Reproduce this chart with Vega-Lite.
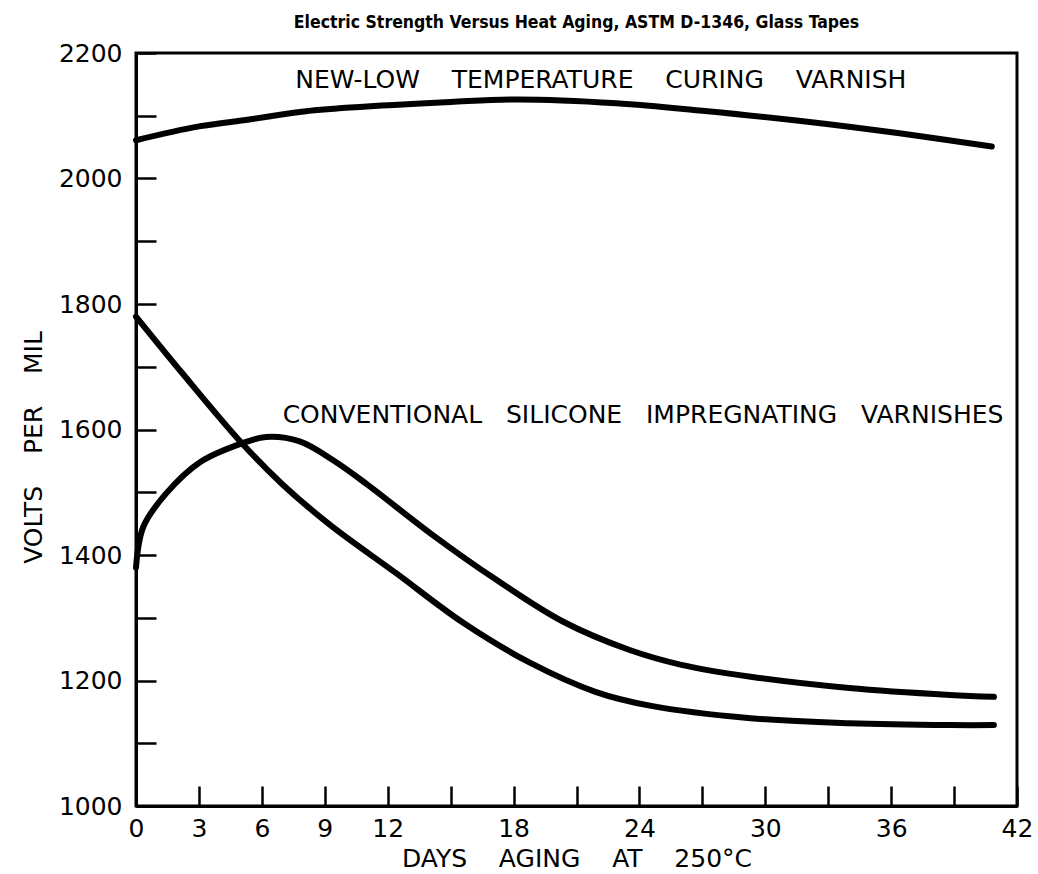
{
  "$schema": "https://vega.github.io/schema/vega-lite/v6.json",
  "width": 881,
  "height": 753,
  "autosize": "none",
  "padding": {"left": 136, "top": 53, "right": 21, "bottom": 68},
  "background": "white",
  "config": {
    "view": {"stroke": "black", "strokeWidth": 3},
    "font": "DejaVu Sans"
  },
  "title": {
    "text": "Electric Strength Versus Heat Aging, ASTM D-1346, Glass Tapes",
    "font": "DejaVu Sans Condensed",
    "fontSize": 17.5,
    "fontWeight": 600,
    "color": "black",
    "anchor": "middle",
    "offset": 10
  },
  "datasets": {
    "curves": [
      {"series": "new", "day": 0, "volts": 2061},
      {"series": "new", "day": 3, "volts": 2083},
      {"series": "new", "day": 5.4, "volts": 2094},
      {"series": "new", "day": 7.8, "volts": 2106},
      {"series": "new", "day": 10.2, "volts": 2113},
      {"series": "new", "day": 15, "volts": 2122},
      {"series": "new", "day": 18.2, "volts": 2126},
      {"series": "new", "day": 22.9, "volts": 2120},
      {"series": "new", "day": 27, "volts": 2108},
      {"series": "new", "day": 31.6, "volts": 2092},
      {"series": "new", "day": 36.4, "volts": 2072},
      {"series": "new", "day": 40.8, "volts": 2051},
      {"series": "desc", "day": 0, "volts": 1780},
      {"series": "desc", "day": 2.2, "volts": 1690},
      {"series": "desc", "day": 5.05, "volts": 1578},
      {"series": "desc", "day": 7, "volts": 1512},
      {"series": "desc", "day": 9.25, "volts": 1448},
      {"series": "desc", "day": 12.4, "volts": 1371},
      {"series": "desc", "day": 15.6, "volts": 1292},
      {"series": "desc", "day": 18.8, "volts": 1228},
      {"series": "desc", "day": 21.9, "volts": 1182},
      {"series": "desc", "day": 24.5, "volts": 1160},
      {"series": "desc", "day": 29.3, "volts": 1140},
      {"series": "desc", "day": 34, "volts": 1132},
      {"series": "desc", "day": 38.8, "volts": 1129},
      {"series": "desc", "day": 40.9, "volts": 1129},
      {"series": "asc", "day": 0, "volts": 1380},
      {"series": "asc", "day": 0.35, "volts": 1445},
      {"series": "asc", "day": 1.46, "volts": 1499},
      {"series": "asc", "day": 3.05, "volts": 1548},
      {"series": "asc", "day": 5.05, "volts": 1578},
      {"series": "asc", "day": 6.2, "volts": 1588},
      {"series": "asc", "day": 7.8, "volts": 1581},
      {"series": "asc", "day": 9.4, "volts": 1551},
      {"series": "asc", "day": 11, "volts": 1513},
      {"series": "asc", "day": 14.1, "volts": 1433},
      {"series": "asc", "day": 17.2, "volts": 1360},
      {"series": "asc", "day": 20.35, "volts": 1294},
      {"series": "asc", "day": 23.5, "volts": 1249},
      {"series": "asc", "day": 26, "volts": 1225},
      {"series": "asc", "day": 29.3, "volts": 1206},
      {"series": "asc", "day": 34, "volts": 1188},
      {"series": "asc", "day": 38.8, "volts": 1177},
      {"series": "asc", "day": 40.9, "volts": 1174}
    ],
    "notes": [
      {"label": "NEW-LOW\u00a0\u00a0\u00a0\u00a0TEMPERATURE\u00a0\u00a0\u00a0\u00a0CURING\u00a0\u00a0\u00a0\u00a0VARNISH", "day": 22.16, "volts": 2157},
      {"label": "CONVENTIONAL\u00a0\u00a0\u00a0SILICONE\u00a0\u00a0\u00a0IMPREGNATING\u00a0\u00a0\u00a0VARNISHES", "day": 24.17, "volts": 1623}
    ]
  },
  "layer": [
    {
      "data": {"name": "curves"},
      "mark": {"type": "line", "color": "black", "strokeWidth": 6, "strokeCap": "round", "interpolate": "catmull-rom"},
      "encoding": {
        "x": {
          "field": "day", "type": "quantitative",
          "scale": {"domain": [0, 42], "nice": false, "zero": false},
          "axis": {
            "values": [0, 3, 6, 9, 12, 15, 18, 21, 24, 27, 30, 33, 36, 39, 42],
            "labelExpr": "indexof([15,21,27,33,39], datum.value) >= 0 ? '' : datum.label",
            "grid": false,
            "tickSize": -20, "tickWidth": 2.5, "tickColor": "black",
            "domainWidth": 3, "domainColor": "black",
            "labelFontSize": 25, "labelColor": "black", "labelPadding": 30,
            "labelFlush": false, "labelOverlap": false,
            "title": "DAYS\u00a0\u00a0\u00a0\u00a0AGING\u00a0\u00a0\u00a0\u00a0AT\u00a0\u00a0\u00a0\u00a0250°C",
            "titleFontSize": 25, "titleFontWeight": "normal", "titleColor": "black",
            "titlePadding": 5
          }
        },
        "y": {
          "field": "volts", "type": "quantitative",
          "scale": {"domain": [1000, 2200], "nice": false, "zero": false},
          "axis": {
            "values": [1000, 1100, 1200, 1300, 1400, 1500, 1600, 1700, 1800, 1900, 2000, 2100, 2200],
            "format": "d",
            "labelExpr": "datum.value % 200 == 0 ? datum.label : ''",
            "grid": false,
            "tickSize": -20, "tickWidth": 2.5, "tickColor": "black",
            "domainWidth": 3, "domainColor": "black",
            "labelFontSize": 25, "labelColor": "black", "labelPadding": 34,
            "labelFlush": false, "labelOverlap": false,
            "title": "VOLTS\u00a0\u00a0\u00a0\u00a0PER\u00a0\u00a0\u00a0\u00a0MIL",
            "titleFontSize": 25, "titleFontWeight": "normal", "titleColor": "black",
            "titlePadding": 12,
            "titleY": 394
          }
        },
        "detail": {"field": "series"}
      }
    },
    {
      "data": {"name": "notes"},
      "mark": {"type": "text", "fontSize": 25, "color": "black", "align": "center", "baseline": "middle"},
      "encoding": {
        "x": {"field": "day", "type": "quantitative"},
        "y": {"field": "volts", "type": "quantitative"},
        "text": {"field": "label"}
      }
    }
  ]
}
